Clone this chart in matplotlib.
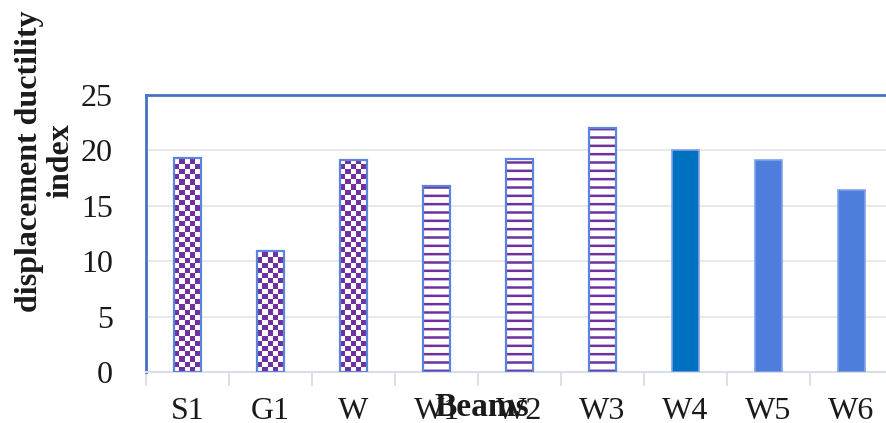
import numpy as np
import matplotlib.pyplot as plt
from matplotlib.colors import ListedColormap

# Data
beams = ['S1', 'G1', 'W', 'W1', 'W2', 'W3', 'W4', 'W5', 'W6']
ductility = [19.3, 10.9, 19.1, 16.8, 19.2, 22.0, 20.0, 19.1, 16.4]
patterns = ['checker', 'checker', 'checker', 'lines', 'lines', 'lines',
            'solid', 'solid', 'solid']

purple = '#7030A0'
edge_blue = '#5B84DC'
solid_colors = ['#0070C0', '#4F7DDB', '#4F7DDB']
text_color = '#1A1A1A'

plt.rcParams['font.family'] = ['Liberation Serif', 'DejaVu Serif']
plt.rcParams['hatch.linewidth'] = 1.8

W, H = 886, 423
fig = plt.figure(figsize=(W / 100, H / 100), dpi=100)
# axes runs past the right edge of the figure
ax_l, ax_r, ax_t, ax_b = 146, 893, 95, 372
ax = fig.add_axes([ax_l / W, 1 - ax_b / H, (ax_r - ax_l) / W, (ax_b - ax_t) / H])

x = np.arange(len(beams))
ax.set_xlim(-0.5, len(beams) - 0.5)
ax.set_ylim(0, 25)

# checker tile used for the first three bars
cell_px = 5.2
ux = len(beams) / (ax_r - ax_l) * cell_px
uy = 25 / (ax_b - ax_t) * cell_px
checker_cmap = ListedColormap(['white', purple])

solid_i = 0
for xi, val, pat in zip(x, ductility, patterns):
    if pat == 'solid':
        ax.bar(xi, val, width=0.33, color=solid_colors[solid_i],
               edgecolor='#7FA2EA', linewidth=1.2, zorder=3)
        solid_i += 1
    elif pat == 'lines':
        ax.bar(xi, val, width=0.33, facecolor='white', hatch='--',
               edgecolor=purple, linewidth=0, zorder=3)
        ax.bar(xi, val, width=0.33, fill=False, edgecolor=edge_blue,
               linewidth=1.6, zorder=4)
    else:
        bar = ax.bar(xi, val, width=0.33, edgecolor=edge_blue,
                     linewidth=1.6, zorder=4, fill=False)
        x0 = xi - 0.165
        nx = int(np.ceil(0.33 / ux)) + 1
        ny = int(np.ceil(val / uy)) + 1
        grid = (np.add.outer(np.arange(ny), np.arange(nx)) % 2).astype(float)
        img = ax.imshow(grid, cmap=checker_cmap, interpolation='nearest',
                        extent=(x0, x0 + nx * ux, 0, ny * uy), origin='lower',
                        aspect='auto', zorder=3)
        img.set_clip_path(bar.patches[0])

ax.set_xlim(-0.5, len(beams) - 0.5)
ax.set_ylim(0, 25)

# grid and frame
ax.set_yticks([0, 5, 10, 15, 20, 25])
ax.yaxis.grid(True, color='#E4E4E4', linewidth=1.2, zorder=0)
ax.set_axisbelow(True)
ax.spines['right'].set_visible(False)
for side in ['top', 'left']:
    ax.spines[side].set_color('#4472C4')
    ax.spines[side].set_linewidth(2)
ax.spines['bottom'].set_color('#D9DEE8')
ax.spines['bottom'].set_linewidth(1.5)

ax.tick_params(axis='y', length=0, pad=24, labelsize=23, labelcolor=text_color)
ax.set_xticks(x)
ax.set_xticklabels(beams)
ax.set_xticks(np.arange(-0.5, len(beams)), minor=True)
ax.tick_params(axis='x', which='major', length=0, pad=18, labelsize=23,
               labelcolor=text_color)
ax.tick_params(axis='x', which='minor', length=10, width=1.2, color='#D9D9D9')

fig.text(482 / W, 1 - 407 / H, 'Beams', ha='center', va='center',
         fontsize=24, fontweight='bold', color=text_color)
fig.text(45 / W, 1 - 161 / H, 'displacement ductility\nindex', rotation=90,
         ha='center', va='center', fontsize=23, fontweight='bold',
         linespacing=1.1, color=text_color)

fig.savefig('out.png', dpi=100)
